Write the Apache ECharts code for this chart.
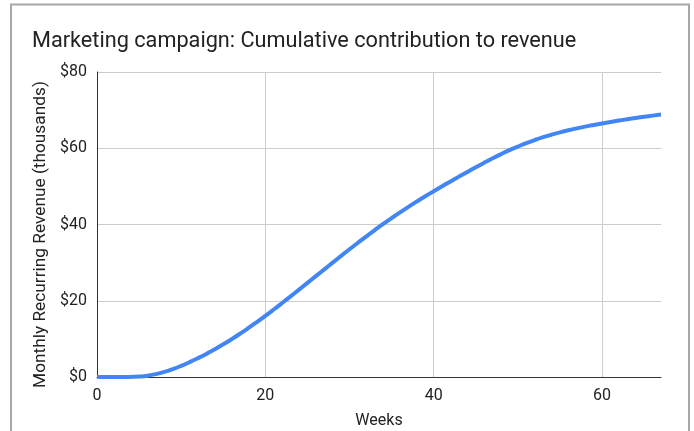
<!DOCTYPE html>
<html>
<head>
<meta charset="utf-8">
<script src="https://cdn.jsdelivr.net/npm/echarts@6/dist/echarts.min.js"></script>
<style>
html,body{margin:0;padding:0;background:#fff;}
#chart{width:694px;height:431px;}
</style>
</head>
<body>
<div id="chart"></div>
<script>
const titleText = "Marketing campaign: Cumulative contribution to revenue";
const xAxisTitle = "Weeks";
const yAxisTitle = "Monthly Recurring Revenue (thousands)";
const weeks = [0,1,2,3,4,5,6,7,8,9,10,11,12,13,14,15,16,17,18,19,20,21,22,23,24,25,26,27,28,29,30,31,32,33,34,35,36,37,38,39,40,41,42,43,44,45,46,47,48,49,50,51,52,53,54,55,56,57,58,59,60,61,62,63,64,65,66,67];
const revenue = [0,0,0,0,0.03,0.13,0.35,0.75,1.33,2.07,2.93,3.89,4.94,6.07,7.28,8.57,9.93,11.36,12.86,14.42,16.03,17.70,19.41,21.15,22.91,24.68,26.46,28.24,30.01,31.77,33.51,35.22,36.90,38.54,40.14,41.69,43.19,44.64,46.04,47.40,48.72,50.02,51.30,52.56,53.80,55.02,56.21,57.36,58.46,59.49,60.44,61.34,62.16,62.90,63.56,64.16,64.71,65.21,65.67,66.10,66.51,66.90,67.27,67.62,67.95,68.26,68.56,68.85];
const xTicks = [0,20,40,60];
const yTicks = [0,20,40,60,80];

const chart = echarts.init(document.getElementById('chart'));
const font = 'Roboto, "Noto Sans", sans-serif';
chart.setOption({
  animation: false,
  backgroundColor: '#ffffff',
  title: {
    text: titleText,
    left: 27, top: 26,
    textStyle: {fontFamily: font, fontSize: 21.7, fontWeight: 'normal', color: '#222'}
  },
  graphic: [{
    type: 'rect',
    shape: {x: 11, y: 4.5, width: 678, height: 440},
    style: {fill: 'none', stroke: '#a8a8a8', lineWidth: 2},
    silent: true
  }],
  grid: {left: 97, right: 33, top: 72, bottom: 54, containLabel: false, outerBoundsMode: 'none'},
  xAxis: {
    type: 'value',
    min: 0, max: 67, interval: 20,
    name: xAxisTitle, nameLocation: 'middle', nameGap: 36,
    nameTextStyle: {fontFamily: font, fontSize: 16, color: '#222'},
    axisLine: {show: true, lineStyle: {color: '#333', width: 1}},
    axisTick: {show: false},
    axisLabel: {
      fontFamily: font, fontSize: 16, color: '#222', margin: 11,
      formatter: function (v) { return xTicks.indexOf(v) >= 0 ? String(v) : ''; }
    },
    splitLine: {show: true, lineStyle: {color: ['#cccccc','#cccccc','#cccccc','#cccccc','rgba(0,0,0,0)'], width: 1}}
  },
  yAxis: {
    type: 'value',
    min: 0, max: 80, interval: 20,
    name: yAxisTitle, nameLocation: 'middle', nameGap: 43,
    nameTextStyle: {fontFamily: font, fontSize: 17.3, color: '#222', padding: [0, 20, 0, 0]},
    axisLine: {show: true, lineStyle: {color: '#333', width: 1}},
    axisTick: {show: false},
    axisLabel: {
      fontFamily: font, fontSize: 16, color: '#222', margin: 10,
      formatter: function (v) { return yTicks.indexOf(v) >= 0 ? '$' + v : ''; }
    },
    splitLine: {show: true, lineStyle: {color: '#cccccc', width: 1}}
  },
  series: [{
    type: 'line',
    data: weeks.map((w, i) => [w, revenue[i]]),
    smooth: true,
    showSymbol: false,
    lineStyle: {color: '#4285f4', width: 4},
    itemStyle: {color: '#4285f4'}
  }]
});
</script>
</body>
</html>
